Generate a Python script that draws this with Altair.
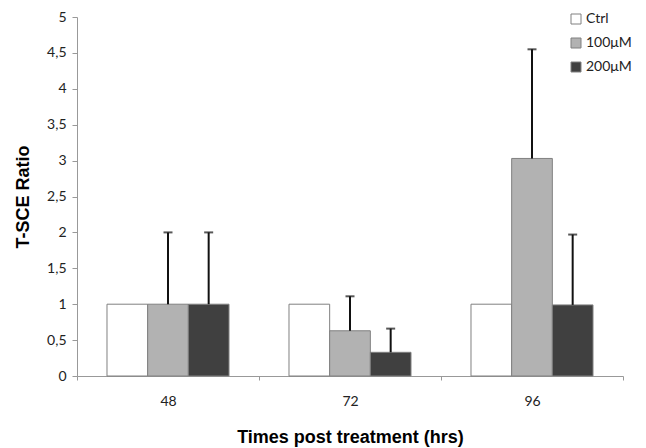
import altair as alt
import pandas as pd

categories = ["48", "72", "96"]
series = ["Ctrl", "100μM", "200μM"]
ctrl_vals = [1.0, 1.0, 1.0]
t100_vals = [1.0, 0.63, 3.03]
t200_vals = [1.0, 0.33, 0.99]
ctrl_err = [0.0, 0.0, 0.0]
t100_err = [1.0, 0.48, 1.52]
t200_err = [1.0, 0.33, 0.98]
colors = ["#ffffff", "#b2b2b2", "#404040"]
y_ticks = [0, 0.5, 1, 1.5, 2, 2.5, 3, 3.5, 4, 4.5, 5]

rows = []
for s, vals, errs in zip(series, [ctrl_vals, t100_vals, t200_vals], [ctrl_err, t100_err, t200_err]):
    for c, v, e in zip(categories, vals, errs):
        rows.append({"time": c, "group": s, "value": v, "err": e})
df = pd.DataFrame(rows)

x_scale = alt.Scale(paddingInner=0, paddingOuter=0)
x_axis = alt.Axis(title="Times post treatment (hrs)", labelAngle=0,
                  tickBand="extent", tickSize=4, labelPadding=14,
                  titlePadding=20)
y_scale = alt.Scale(domain=[0, 5], nice=False)
y_axis = alt.Axis(title="T-SCE Ratio", values=y_ticks,
                  labelExpr="replace(format(datum.value, ''), '.', ',')",
                  labelOverlap=False, labelFlush=False,
                  tickSize=5, labelPadding=6, titlePadding=14)
xoff = alt.XOffset("group:N", sort=series,
                   scale=alt.Scale(paddingInner=0, paddingOuter=0.7375))

base = alt.Chart(df)

bars = base.mark_bar(stroke="#808080", strokeWidth=1).encode(
    x=alt.X("time:N", sort=categories, scale=x_scale, axis=x_axis),
    xOffset=xoff,
    y=alt.Y("value:Q", scale=y_scale, axis=y_axis),
    fill=alt.Fill("group:N", sort=series,
                  scale=alt.Scale(domain=series, range=colors),
                  legend=alt.Legend(title=None, orient="none", legendX=492, legendY=-5,
                                    symbolType="square", symbolSize=100,
                                    symbolStrokeColor="#808080", symbolStrokeWidth=1,
                                    labelFontSize=14, rowPadding=10, labelOffset=3,
                                    labelLimit=200,
                                    labelFont="Lato", labelColor="#222")),
)

err_base = base.transform_filter("datum.err > 0").transform_calculate(
    upper="datum.value + datum.err")

rules = err_base.mark_rule(color="#111", strokeWidth=2).encode(
    x=alt.X("time:N", sort=categories, scale=x_scale, axis=x_axis),
    xOffset=xoff,
    y=alt.Y("value:Q", scale=y_scale, axis=y_axis),
    y2="upper:Q",
)

caps = err_base.mark_tick(color="#111", thickness=2, size=9, orient="horizontal").encode(
    x=alt.X("time:N", sort=categories, scale=x_scale, axis=x_axis),
    xOffset=xoff,
    y=alt.Y("upper:Q", scale=y_scale, axis=y_axis),
)

chart = alt.layer(bars, rules, caps).properties(
    width=546, height=359,
    autosize=alt.AutoSizeParams(type="none"),
    padding={"left": 69, "top": 9, "right": 15, "bottom": 80},
).configure_view(stroke=None).configure_axis(
    grid=False,
    domainColor="#999",
    tickColor="#999",
    labelFont="Lato",
    labelFontSize=14,
    labelColor="#222",
    titleFont="Liberation Sans",
    titleFontSize=18,
    titleFontWeight="bold",
    titleColor="#000",
)

chart.save("out.html", embed_options={"renderer": "svg", "actions": False})
